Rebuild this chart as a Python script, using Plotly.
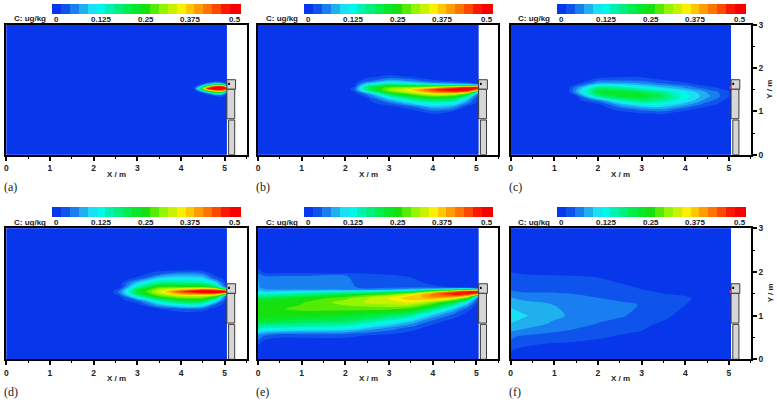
import plotly.graph_objects as go

W, H = 777, 402
LEVEL_START, LEVEL_END, LEVEL_SIZE = -0.0125, 0.5125, 0.025
BAR_TICKS = [0, 0.125, 0.25, 0.375, 0.5]
BAR_TEXT = ["0", "0.125", "0.25", "0.375", "0.5"]
COLORS = [[0.0, "#0428ea"], [0.0714, "#0d50ec"], [0.119, "#1878f0"], [0.167, "#20a8f0"],
          [0.214, "#20d8f0"], [0.262, "#00fafa"], [0.34, "#00f0a0"], [0.44, "#00ec40"], [0.52, "#10e010"],
          [0.62, "#90f400"], [0.73, "#fff000"], [0.8, "#ffb000"], [0.9, "#ff6000"], [1.0, "#f80000"]]

# panel (a)
xa = [0, 4.2, 4.3, 4.45, 4.6, 4.8, 4.95, 5.05]
ya = [0, 1.3, 1.36, 1.42, 1.48, 1.53, 1.58, 1.63, 1.68, 1.75, 3]
za = [[0, 0, 0, 0, 0, 0, 0, 0],
      [0, 0, 0, 0, 0, 0, 0, 0],
      [0, 0, 0, 0, 0, .02, .02, 0],
      [0, 0, 0, 0, .04, .15, .12, .02],
      [0, 0, 0, .08, .26, .42, .4, .2],
      [0, 0, .01, .2, .47, .56, .56, .55],
      [0, 0, 0, .08, .26, .45, .45, .25],
      [0, 0, 0, .01, .07, .15, .1, .03],
      [0, 0, 0, 0, 0, .02, .01, 0],
      [0, 0, 0, 0, 0, 0, 0, 0],
      [0, 0, 0, 0, 0, 0, 0, 0]]

# panel (b)
xb = [0, 2.05, 2.2, 2.5, 3, 3.5, 4, 4.5, 4.8, 5.05]
yb = [0, .9, 1.0, 1.1, 1.2, 1.3, 1.4, 1.45, 1.5, 1.55, 1.6, 1.65, 1.7, 1.8, 1.9, 3]
zb = [[0] * 10,
      [0] * 10,
      [0, 0, 0, 0, 0, 0, .03, .01, 0, 0],
      [0, 0, 0, 0, 0, .03, .08, .06, 0, 0],
      [0, 0, 0, 0, .04, .1, .14, .12, .05, 0],
      [0, 0, 0, .01, .1, .18, .22, .2, .1, 0],
      [0, 0, 0, .05, .2, .28, .34, .32, .25, .03],
      [0, 0, .01, .12, .27, .33, .42, .45, .4, .15],
      [0, 0, .03, .18, .3, .36, .46, .52, .52, .4],
      [0, 0, .02, .2, .28, .3, .36, .44, .5, .56],
      [0, 0, 0, .14, .22, .2, .18, .16, .18, .12],
      [0, 0, 0, .08, .13, .11, .07, .05, .03, 0],
      [0, 0, 0, .03, .08, .06, .02, .01, 0, 0],
      [0, 0, 0, .005, .02, .01, 0, 0, 0, 0],
      [0] * 10,
      [0] * 10]

# panel (c)
xc = [0, 1.3, 1.5, 2, 2.5, 3, 3.5, 4, 4.5, 5, 5.05]
yc = [0, .85, .95, 1.05, 1.15, 1.25, 1.35, 1.45, 1.55, 1.65, 1.75, 1.85, 3]
zc = [[0] * 11,
      [0] * 11,
      [0, 0, 0, 0, 0, .01, .015, 0, 0, 0, 0],
      [0, 0, 0, 0, .02, .05, .06, .02, 0, 0, 0],
      [0, 0, 0, 0, .07, .11, .11, .07, .02, 0, 0],
      [0, 0, 0, .05, .14, .18, .16, .11, .05, 0, 0],
      [0, 0, .01, .17, .22, .23, .19, .125, .07, .015, 0],
      [0, 0, .07, .22, .23, .2, .16, .11, .06, .015, 0],
      [0, 0, .05, .17, .16, .12, .09, .06, .02, 0, 0],
      [0, 0, 0, .07, .07, .06, .035, .015, 0, 0, 0],
      [0, 0, 0, .015, .02, .02, .005, 0, 0, 0, 0],
      [0] * 11,
      [0] * 11]

# panel (d)
xd = [0, 2.4, 2.6, 3, 3.5, 4, 4.5, 4.8, 5.05]
yd = [0, 1.05, 1.15, 1.25, 1.35, 1.45, 1.5, 1.55, 1.6, 1.65, 1.75, 1.85, 1.95, 2.05, 3]
zd = [[0] * 9,
      [0] * 9,
      [0, 0, 0, 0, .01, .03, .025, 0, 0],
      [0, 0, 0, 0, .08, .13, .12, .03, 0],
      [0, 0, 0, .04, .16, .22, .22, .12, 0],
      [0, 0, .01, .15, .27, .32, .32, .27, .02],
      [0, 0, .04, .2, .31, .40, .42, .42, .25],
      [0, 0, .05, .22, .33, .46, .56, .56, .55],
      [0, 0, .03, .2, .31, .37, .42, .4, .2],
      [0, 0, 0, .16, .27, .27, .27, .2, .02],
      [0, 0, 0, .09, .17, .17, .16, .1, 0],
      [0, 0, 0, .02, .1, .11, .1, .03, 0],
      [0, 0, 0, 0, .035, .06, .05, 0, 0],
      [0, 0, 0, 0, 0, .005, 0, 0, 0],
      [0] * 9]

# panel (e)
xe = [0, .15, .5, 1, 2, 3, 3.5, 4, 4.5, 4.8, 5.05]
ye = [0, .25, .4, .55, .7, .85, 1.0, 1.15, 1.3, 1.4, 1.45, 1.5, 1.55, 1.6, 1.65, 1.75, 1.9, 2.0, 2.15, 3]
ze = [[0] * 11,
      [0] * 11,
      [.03, 0, 0, 0, 0, 0, 0, 0, 0, 0, 0],
      [.06, .04, .02, .02, .02, .005, 0, 0, 0, 0, 0],
      [.14, .13, .13, .12, .11, .05, .02, 0, 0, 0, 0],
      [.21, .21, .2, .19, .18, .12, .08, .02, 0, 0, 0],
      [.25, .25, .25, .24, .23, .19, .16, .08, .02, 0, 0],
      [.26, .26, .26, .27, .27, .27, .25, .18, .08, .02, 0],
      [.25, .25, .26, .26, .30, .33, .34, .29, .2, .1, 0],
      [.21, .21, .22, .24, .28, .34, .38, .39, .34, .25, .01],
      [.17, .17, .18, .2, .25, .31, .36, .42, .43, .37, .12],
      [.13, .13, .14, .16, .2, .26, .31, .42, .5, .48, .42],
      [.1, .09, .1, .11, .13, .16, .2, .3, .42, .5, .56],
      [.075, .065, .06, .06, .055, .06, .08, .11, .16, .2, .1],
      [.065, .055, .05, .05, .04, .03, .03, .02, .01, 0, 0],
      [.065, .05, .05, .05, .04, .025, .025, .005, 0, 0, 0],
      [.05, .04, .04, .04, .04, .02, .01, 0, 0, 0, 0],
      [.03, .005, 0, 0, 0, 0, 0, 0, 0, 0, 0],
      [0] * 11,
      [0] * 11]

# panel (f)
xf = [0, .3, 1, 1.45, 2, 2.5, 2.9, 3.5, 4.15, 4.4, 5.05]
yf = [0, .2, .37, .53, .65, .8, 1.0, 1.25, 1.4, 1.55, 1.75, 1.95, 2.1, 3]
zf = [[0] * 11,
      [.013, .005, .003, .002, 0, 0, 0, 0, 0, 0, 0],
      [.035, .02, .012, .01, .005, 0, 0, 0, 0, 0, 0],
      [.04, .035, .03, .025, .018, .01, .005, 0, 0, 0, 0],
      [.065, .055, .04, .035, .028, .02, .014, .005, 0, 0, 0],
      [.085, .08, .055, .045, .036, .03, .02, .008, 0, 0, 0],
      [.105, .09, .07, .056, .045, .04, .033, .018, 0, 0, 0],
      [.08, .075, .062, .054, .048, .043, .038, .025, .009, 0, 0],
      [.065, .055, .05, .047, .038, .032, .03, .024, .013, 0, 0],
      [.04, .035, .035, .032, .028, .022, .019, .008, 0, 0, 0],
      [.025, .025, .024, .023, .02, .012, .003, 0, 0, 0, 0],
      [.018, .0125, .011, .01, .008, 0, 0, 0, 0, 0, 0],
      [0] * 11,
      [0] * 11]

PANELS = [
    ("(a)", xa, ya, za, 6.3, 246.5, 24.7, 154.7, 52, 4),
    ("(b)", xb, yb, zb, 258, 498.3, 24.7, 154.7, 304, 4),
    ("(c)", xc, yc, zc, 510.7, 750.7, 24.7, 154.7, 557, 4),
    ("(d)", xd, yd, zd, 6.3, 246.5, 228.3, 359.3, 52, 207.5),
    ("(e)", xe, ye, ze, 258, 498.3, 228.3, 359.3, 304, 207.5),
    ("(f)", xf, yf, zf, 510.7, 750.7, 228.3, 359.3, 557, 207.5),
]

# furniture outline in data units: (x0, x1, y0, y1)
BOX_TOP = (5.05, 5.25, 1.51, 1.73)
BOX_MID = (5.05, 5.23, 0.83, 1.51)
BOX_LOW = (5.09, 5.23, 0, 0.8)
DOT_BLACK = (5.08, 5.12, 1.61, 1.66)
DOT_RED = (5.02, 5.06, 1.52, 1.58)
RED_DOT_PANELS = ["(c)", "(f)"]

FONT = "Liberation Sans"
fig = go.Figure()
shapes, annos = [], []
layout = {}

for i, (name, x, y, z, px0, px1, py0, py1, bar_x, bar_y) in enumerate(PANELS):
    n = "" if i == 0 else str(i + 1)
    fig.add_trace(go.Contour(
        x=x, y=y, z=z, xaxis="x" + n, yaxis="y" + n,
        autocontour=False,
        contours=dict(start=LEVEL_START, end=LEVEL_END, size=LEVEL_SIZE, coloring="fill", showlines=False),
        line=dict(width=0, smoothing=0.9),
        zauto=False, zmin=LEVEL_START, zmax=LEVEL_END,
        colorscale=COLORS, hoverinfo="skip",
        colorbar=dict(orientation="h", x=bar_x / W, xanchor="left", y=1 - bar_y / H, yanchor="top",
                      lenmode="pixels", len=187, thicknessmode="pixels", thickness=10,
                      xpad=0, ypad=0, outlinewidth=0, borderwidth=0, ticks="", ticklen=0,
                      tickmode="array", tickvals=BAR_TICKS, ticktext=BAR_TEXT, showticklabels=False),
    ))
    right = name in ("(c)", "(f)")
    layout["xaxis" + n] = dict(
        domain=[px0 / W, px1 / W], range=[0, 5.5], anchor="y" + n, side="bottom",
        showline=True, linewidth=2, linecolor="black", mirror=True, showgrid=False, zeroline=False,
        ticks="outside", ticklen=4, tickwidth=1.5, tickcolor="black", dtick=1, tick0=0,
        minor=dict(ticks="outside", ticklen=2, tickwidth=1, dtick=0.5, tick0=0, tickcolor="black", showgrid=False),
        tickfont=dict(family=FONT, size=8.5, color="#222", weight="bold"), ticklabelstandoff=0,
    )
    layout["yaxis" + n] = dict(
        domain=[1 - py1 / H, 1 - py0 / H], range=[0, 3], anchor="x" + n, side="right",
        showline=True, linewidth=2, linecolor="black", mirror=True, showgrid=False, zeroline=False,
        ticks="outside" if right else "", ticklen=4, tickwidth=1.5, tickcolor="black", dtick=1, tick0=0,
        showticklabels=right,
        minor=dict(ticks="outside" if right else "", ticklen=2, tickwidth=1, dtick=0.5, tick0=0,
                   tickcolor="black", showgrid=False),
        tickfont=dict(family=FONT, size=8.5, color="#222", weight="bold"),
    )
    for b in (BOX_TOP, BOX_MID, BOX_LOW):
        shapes.append(dict(type="rect", xref="x" + n, yref="y" + n, x0=b[0], x1=b[1], y0=b[2], y1=b[3],
                           fillcolor="#d6d6d6", line=dict(color="#3a3a3a", width=1), layer="above"))
    shapes.append(dict(type="rect", xref="x" + n, yref="y" + n, x0=DOT_BLACK[0], x1=DOT_BLACK[1],
                       y0=DOT_BLACK[2], y1=DOT_BLACK[3], fillcolor="black", line=dict(width=0), layer="above"))
    if name in RED_DOT_PANELS:
        shapes.append(dict(type="rect", xref="x" + n, yref="y" + n, x0=DOT_RED[0], x1=DOT_RED[1],
                           y0=DOT_RED[2], y1=DOT_RED[3], fillcolor="#e04060", line=dict(width=0), layer="above"))
    for v, t in zip(BAR_TICKS, BAR_TEXT):
        annos.append(dict(text=t, xref="paper", yref="paper", x=(bar_x + 4.5 + v / 0.5 * 178) / W,
                          y=1 - (py0 - 5.5) / H, xanchor="center", yanchor="middle", showarrow=False,
                          font=dict(family=FONT, size=8, color="#222", weight="bold")))
    annos.append(dict(text="C: ug/kg", xref="paper", yref="paper", x=(px0 + 23.5) / W, y=1 - (py0 - 6) / H,
                      xanchor="center", yanchor="middle", showarrow=False,
                      font=dict(family=FONT, size=8, color="#222", weight="bold")))
    annos.append(dict(text="X / m", xref="paper", yref="paper", x=(px0 + 110) / W, y=1 - (py1 + 19.5) / H,
                      xanchor="center", yanchor="middle", showarrow=False,
                      font=dict(family=FONT, size=8, color="#222", weight="bold")))
    annos.append(dict(text=name, xref="paper", yref="paper", x=(px0 + 4.5) / W, y=1 - (py1 + 32.5) / H,
                      xanchor="center", yanchor="middle", showarrow=False,
                      font=dict(family="Liberation Serif", size=12, color="#222")))
    if right:
        annos.append(dict(text="Y / m", xref="paper", yref="paper", x=770 / W, y=1 - (py0 + 65) / H,
                          xanchor="center", yanchor="middle", showarrow=False, textangle=-90,
                          font=dict(family=FONT, size=8, color="#222", weight="bold")))

fig.update_layout(width=W, height=H, margin=dict(l=0, r=0, t=0, b=0, autoexpand=False), paper_bgcolor="white",
                  plot_bgcolor="white", showlegend=False, shapes=shapes, annotations=annos, **layout)
fig.write_html("out.html", config=dict(displayModeBar=False),
               post_script="document.body.style.margin='0';document.documentElement.style.overflow='hidden';")
